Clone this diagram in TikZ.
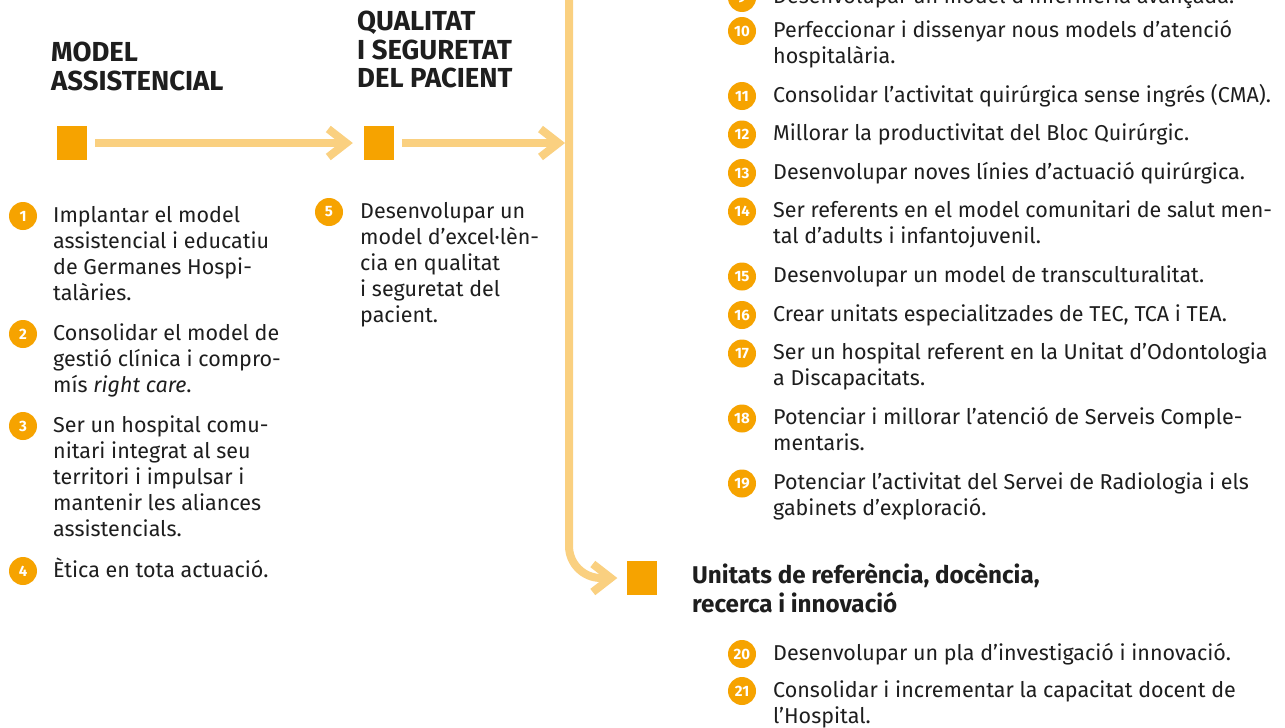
\documentclass[tikz,border=0pt]{standalone}
\usepackage{fontspec}
\setmainfont{Fira Sans}
\definecolor{sqor}{HTML}{F6A300}
\definecolor{lnor}{HTML}{FAD080}
\definecolor{ink}{HTML}{1E1E1E}
\newcommand\tb[1]{\parbox[t]{640pt}{\raggedright #1}}
\begin{document}
\begin{tikzpicture}[x=1pt,y=-1pt,
  sqbox/.style={fill=sqor, minimum width=30pt, minimum height=34pt, inner sep=0pt},
  conn/.style={draw=lnor, line width=8pt},
  chev/.style={draw=lnor, line width=8pt, line join=miter, miter limit=10},
  num/.style={circle, fill=sqor, text=white, minimum size=28pt, inner sep=0pt, font=\fontsize{15}{15}\selectfont\bfseries},
  txt/.style={anchor=base west, inner sep=0pt, text=ink, font=\fontsize{21.5}{26}\selectfont},
  ttl/.style={anchor=base west, inner sep=0pt, text=ink, font=\fontsize{27.5}{29}\selectfont\bfseries},
  hdr/.style={anchor=base west, inner sep=0pt, text=ink, font=\fontsize{24.2}{29}\selectfont\bfseries}]
\useasboundingbox (0,0) rectangle (1285,728);
\fill[white] (0,0) rectangle (1285,728);

% titles
\node[ttl] (ttl1) at (51,61) {\tb{MODEL\\ASSISTENCIAL}};
\node[ttl] (ttl2) at (357,30) {\tb{QUALITAT\\I SEGURETAT\\DEL PACIENT}};

% squares
\node[sqbox] (sq1) at (72,143) {};
\node[sqbox] (sq2) at (379,143) {};
\node[sqbox] (sq3) at (641.5,578) {};
\coordinate (vj) at (569,143);
\coordinate (vtop) at (569,-10);

% connectors
\draw[conn] ([xshift=8pt]sq1.east) -- ([xshift=-17.5pt]sq2.west);
\draw[chev] ([xshift=-35.5pt,yshift=14pt]sq2.west) -- ([xshift=-17.5pt]sq2.west) -- ([xshift=-35.5pt,yshift=-14pt]sq2.west);
\draw[conn] ([xshift=8pt]sq2.east) -- ([xshift=-10.5pt]vj);
\draw[chev] ([xshift=-28.5pt,yshift=14pt]vj) -- ([xshift=-10.5pt]vj) -- ([xshift=-28.5pt,yshift=-14pt]vj);
\draw[conn, rounded corners=32pt] (vtop) |- ([xshift=-15.5pt]sq3.west);
\draw[chev] ([xshift=-33.5pt,yshift=14pt]sq3.west) -- ([xshift=-15.5pt]sq3.west) -- ([xshift=-33.5pt,yshift=-14pt]sq3.west);

% left column
\node[num] (n1) at (23,216) {1};
\node[txt] (t1) at (53,222) {\tb{Implantar el model\\assistencial i educatiu\\de Germanes Hospi-\\talàries.}};
\node[num] (n2) at (23,334) {2};
\node[txt] (t2) at (53,340) {\tb{Consolidar el model de\\gestió clínica i compro-\\mís \textit{right care}.}};
\node[num] (n3) at (23,426) {3};
\node[txt] (t3) at (53,432) {\tb{Ser un hospital comu-\\nitari integrat al seu\\territori i impulsar i\\mantenir les aliances\\assistencials.}};
\node[num] (n4) at (23,571) {4};
\node[txt] (t4) at (53,577) {\tb{Ètica en tota actuació.}};

% item 5
\node[num] (n5) at (329,212) {5};
\node[txt] (t5) at (360,218) {\tb{Desenvolupar un\\model d’excel·lèn-\\cia en qualitat\\i seguretat del\\pacient.}};

% right column
\node[num] (n9) at (742,-2) {9};
\node[txt] (t9) at (773,4) {\tb{Desenvolupar un model d’infermeria avançada.}};
\node[num] (n10) at (742,31) {10};
\node[txt] (t10) at (773,37) {\tb{Perfeccionar i dissenyar nous models d’atenció\\hospitalària.}};
\node[num] (n11) at (742,96) {11};
\node[txt] (t11) at (773,102) {\tb{Consolidar l’activitat quirúrgica sense ingrés (CMA).}};
\node[num] (n12) at (742,134.5) {12};
\node[txt] (t12) at (773,140.5) {\tb{Millorar la productivitat del Bloc Quirúrgic.}};
\node[num] (n13) at (742,173) {13};
\node[txt] (t13) at (773,179) {\tb{Desenvolupar noves línies d’actuació quirúrgica.}};
\node[num] (n14) at (742,211.5) {14};
\node[txt] (t14) at (773,217.5) {\tb{Ser referents en el model comunitari de salut men-\\tal d’adults i infantojuvenil.}};
\node[num] (n15) at (742,276.5) {15};
\node[txt] (t15) at (773,282.5) {\tb{Desenvolupar un model de transculturalitat.}};
\node[num] (n16) at (742,315) {16};
\node[txt] (t16) at (773,321) {\tb{Crear unitats especialitzades de TEC, TCA i TEA.}};
\node[num] (n17) at (742,353.5) {17};
\node[txt] (t17) at (773,359.5) {\tb{Ser un hospital referent en la Unitat d’Odontologia\\a Discapacitats.}};
\node[num] (n18) at (742,418.5) {18};
\node[txt] (t18) at (773,424.5) {\tb{Potenciar i millorar l’atenció de Serveis Comple-\\mentaris.}};
\node[num] (n19) at (742,483.5) {19};
\node[txt] (t19) at (773,489.5) {\tb{Potenciar l’activitat del Servei de Radiologia i els\\gabinets d’exploració.}};

% bottom block
\node[hdr] (hd) at (692,583) {\tb{Unitats de referència, docència,\\recerca i innovació}};
\node[num] (n20) at (742,654) {20};
\node[txt] (t20) at (773,660) {\tb{Desenvolupar un pla d’investigació i innovació.}};
\node[num] (n21) at (742,691) {21};
\node[txt] (t21) at (773,697) {\tb{Consolidar i incrementar la capacitat docent de\\l’Hospital.}};
\end{tikzpicture}
\end{document}
